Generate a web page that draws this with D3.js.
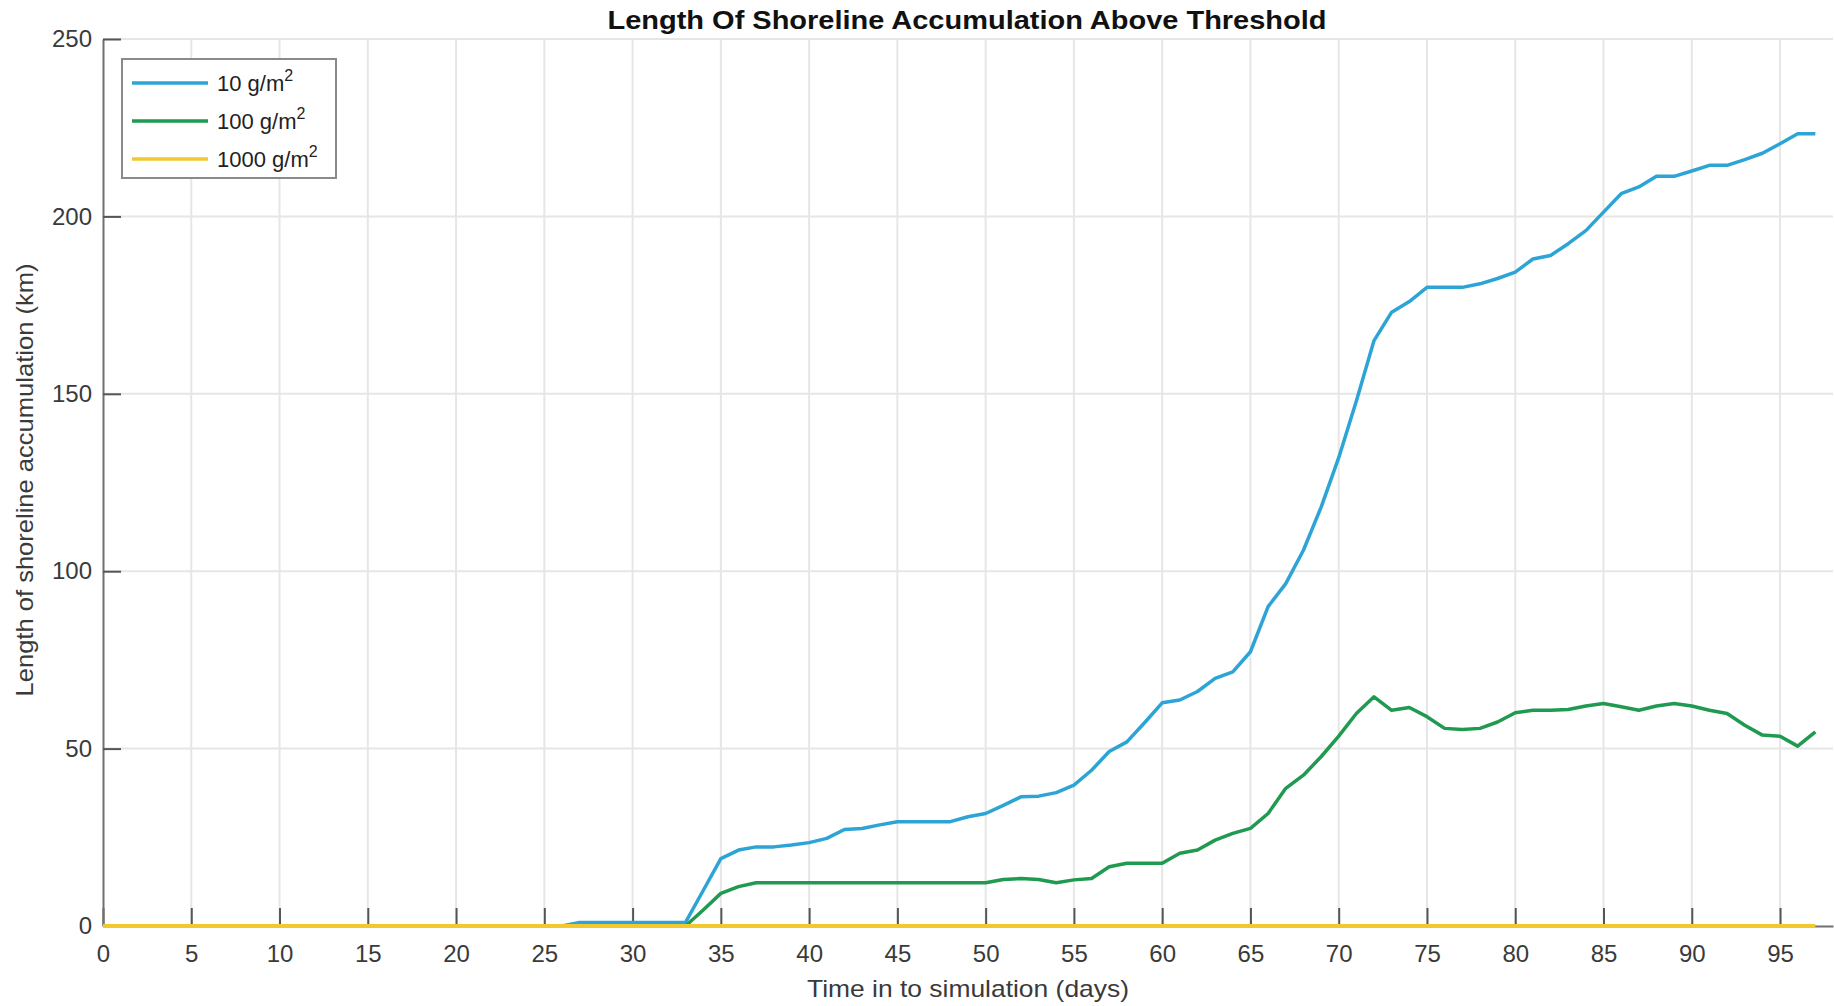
<!DOCTYPE html>
<html>
<head>
<meta charset="utf-8">
<script src="https://cdn.jsdelivr.net/npm/d3@7"></script>
<style>
  body { margin: 0; background: #fff; }
  text { font-family: "Liberation Sans", Arial, sans-serif; }
</style>
</head>
<body>
<div id="visual"></div>
<script>
// days 0..97
const days = d3.range(0, 98);

const seriesNames = ['10 g/m', '100 g/m', '1000 g/m'];

const zeros27 = new Array(27).fill(0);
const values10 = zeros27.concat([
  1, 1, 1, 1, 1, 1, 1,
  10, 19, 21.4, 22.3, 22.3, 22.8, 23.5, 24.7, 27.2, 27.5,
  28.5, 29.4, 29.4, 29.4, 29.4, 30.8, 31.7, 34, 36.4, 36.6,
  37.6, 39.7, 43.9, 49.2, 51.9, 57.3, 62.9, 63.7, 66.1, 69.8,
  71.6, 77.3, 90, 96.5, 105.9, 118, 132, 148, 165, 173,
  176, 180, 180, 180, 181, 182.5, 184.3, 188, 189, 192.3,
  196, 201.2, 206.4, 208.3, 211.3, 211.3, 212.8, 214.4, 214.4, 216,
  217.8, 220.5, 223.3, 223.3,
]);

const values100 = new Array(34).fill(0).concat([
  4.5, 9.2, 11.1, 12.2, 12.2, 12.2, 12.2, 12.2, 12.2, 12.2,
  12.2, 12.2, 12.2, 12.2, 12.2, 12.2, 12.2, 13.1, 13.4, 13.1,
  12.2, 13, 13.4, 16.7, 17.7, 17.7, 17.7, 20.5, 21.4, 24.2,
  26.1, 27.5, 31.7, 38.8, 42.5, 47.7, 53.5, 59.9, 64.6, 60.8,
  61.6, 59, 55.7, 55.4, 55.7, 57.5, 60.1, 60.8, 60.8, 61,
  62, 62.7, 61.8, 60.8, 62, 62.7, 62, 60.8, 59.9, 56.6,
  53.8, 53.5, 50.7, 54.7,
]);

const values1000 = new Array(98).fill(0);

const xTicks = d3.range(0, 100, 5);
const yTicks = [0, 50, 100, 150, 200, 250];

const colors = ['#2ca4d5', '#1f9a50', '#f1c92e'];

const width = 1834;
const height = 1006;
const margin = { top: 39, right: 1, bottom: 80, left: 103 };

const svg = d3.select('#visual').append('svg')
  .attr('width', width)
  .attr('height', height);

const x = d3.scaleLinear()
  .domain([0, 98])
  .range([margin.left, width - margin.right]);

const y = d3.scaleLinear()
  .domain([0, 250])
  .range([height - margin.bottom, margin.top]);

// grid
svg.append('g')
  .selectAll('line')
  .data(xTicks.slice(1))
  .enter().append('line')
  .attr('x1', d => x(d)).attr('x2', d => x(d))
  .attr('y1', y(0)).attr('y2', y(250))
  .attr('stroke', '#e6e6e6')
  .attr('stroke-width', 2);

svg.append('g')
  .selectAll('line')
  .data(yTicks.slice(1))
  .enter().append('line')
  .attr('x1', x(0)).attr('x2', x(98))
  .attr('y1', d => y(d)).attr('y2', d => y(d))
  .attr('stroke', '#e6e6e6')
  .attr('stroke-width', 2);

// axes, ticks point inward like matlab
const xAxis = svg.append('g')
  .attr('transform', `translate(0,${y(0)})`)
  .call(d3.axisBottom(x).tickValues(xTicks).tickSizeInner(-18).tickSizeOuter(0));

const yAxis = svg.append('g')
  .attr('transform', `translate(${x(0)},0)`)
  .call(d3.axisLeft(y).tickValues(yTicks).tickSizeInner(-18).tickSizeOuter(0));

[xAxis, yAxis].forEach((a) => {
  a.select('.domain').attr('stroke', '#707070').attr('stroke-width', 2);
  a.selectAll('.tick line').attr('stroke', '#555').attr('stroke-width', 2);
  a.selectAll('.tick text')
    .attr('fill', '#3a3a3a')
    .style('font-size', '24px');
});
xAxis.selectAll('.tick text').attr('dy', '0.35em').attr('y', 28);
yAxis.selectAll('.tick text').attr('x', -11);

// lines
const line = d3.line()
  .x((d, i) => x(days[i]))
  .y(d => y(d));

const seriesValues = [values10, values100, values1000];
svg.append('g')
  .selectAll('path')
  .data(seriesValues)
  .enter().append('path')
  .attr('d', line)
  .attr('fill', 'none')
  .attr('stroke', (d, i) => colors[i])
  .attr('stroke-width', (d, i) => (i === 2 ? 4 : 3.5))
  .attr('stroke-linejoin', 'round');

// title and labels
svg.append('text')
  .attr('x', 967)
  .attr('y', 29)
  .attr('text-anchor', 'middle')
  .attr('fill', '#111')
  .attr('textLength', 719)
  .attr('lengthAdjust', 'spacingAndGlyphs')
  .style('font-size', '25px')
  .style('font-weight', 'bold')
  .text('Length Of Shoreline Accumulation Above Threshold');

svg.append('text')
  .attr('x', 968)
  .attr('y', 997)
  .attr('text-anchor', 'middle')
  .attr('fill', '#3a3a3a')
  .attr('textLength', 322)
  .attr('lengthAdjust', 'spacingAndGlyphs')
  .style('font-size', '24px')
  .text('Time in to simulation (days)');

svg.append('text')
  .attr('transform', 'translate(33,480) rotate(-90)')
  .attr('text-anchor', 'middle')
  .attr('fill', '#3a3a3a')
  .attr('textLength', 433)
  .attr('lengthAdjust', 'spacingAndGlyphs')
  .style('font-size', '24px')
  .text('Length of shoreline accumulation (km)');

// legend
const legend = svg.append('g');
legend.append('rect')
  .attr('x', 122).attr('y', 59)
  .attr('width', 214).attr('height', 119)
  .attr('fill', '#fff')
  .attr('stroke', '#8a8a8a')
  .attr('stroke-width', 2);

const rows = legend.selectAll('g.row')
  .data(seriesNames)
  .enter().append('g')
  .attr('class', 'row')
  .attr('transform', (d, i) => `translate(0,${83 + i * 38})`);

rows.append('line')
  .attr('x1', 132).attr('x2', 208)
  .attr('stroke', (d, i) => colors[i])
  .attr('stroke-width', 3.5);

const lt = rows.append('text')
  .attr('x', 217)
  .attr('y', 8)
  .attr('fill', '#222')
  .style('font-size', '22px');
lt.append('tspan').text(d => d);
lt.append('tspan')
  .attr('dy', -10)
  .style('font-size', '16px')
  .text('2');
</script>
</body>
</html>
